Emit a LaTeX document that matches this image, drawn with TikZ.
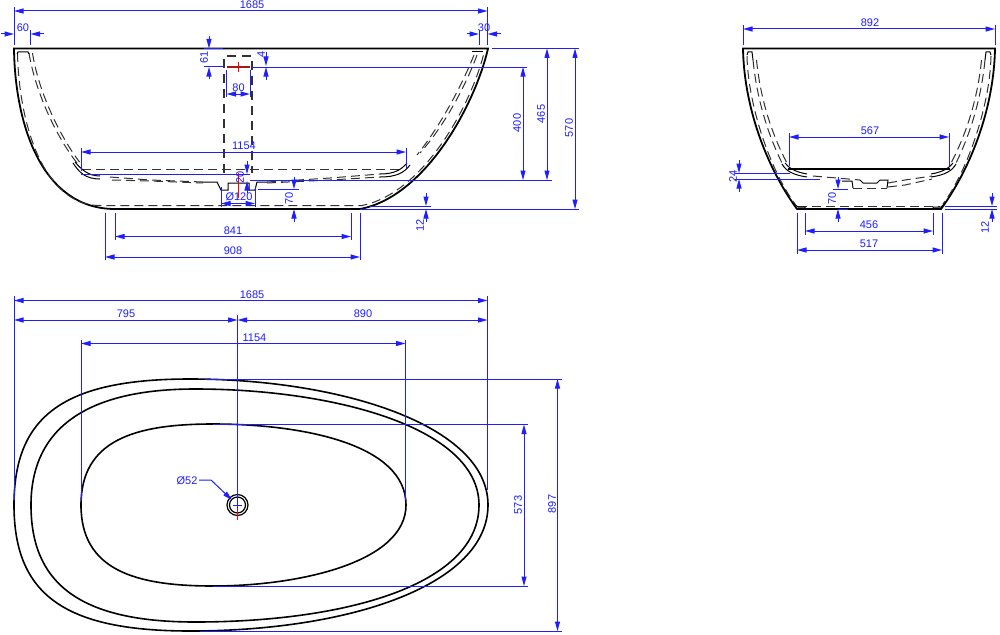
\documentclass[tikz,border=0pt]{standalone}
\usepackage{fontspec}
\setmainfont{Liberation Sans}
\usetikzlibrary{arrows.meta}
\definecolor{dimblue}{RGB}{30,30,255}
\definecolor{darkdash}{RGB}{50,50,50}
\definecolor{darkred}{RGB}{170,20,20}
\tikzset{
	dimline/.style={dimblue,line width=1pt},
	extline/.style={dimblue,line width=1pt},
	dimtext/.style={text=dimblue,inner sep=0pt,font=\fontsize{11}{13}\selectfont},
	rim/.style={black,line width=1.8pt},
	hidden/.style={darkdash,line width=1pt,dash pattern=on 9pt off 5pt},
	wall/.style={black,line width=1pt},
	bowl/.style={black,line width=1.6pt},
	axis/.style={red,line width=1pt}
}
\begin{document}
\begin{tikzpicture}[x=1pt,y=-1pt,>={Triangle[length=9.5pt,width=5pt]}]
	\useasboundingbox (0,0) rectangle (1000,634);
	\fill[white] (0,0) rectangle (1000,634);
	% front view
	\draw[rim] (14,48.5)--(488,48.5) .. controls (475,105) and (425,197) .. (360,209)--(115,209) .. controls (42,209) and (15,125) .. cycle;
	\draw[hidden] (17.5,53) .. controls (19,125) and (44,205.5) .. (100,205.5)--(362,205.5) .. controls (424,193) and (471,105) .. (484,53);
	\draw[hidden] (29,53) .. controls (35,90) and (55,135) .. (77,163);
	\draw[hidden] (32.5,53) .. controls (38,90) and (59,135) .. (79.5,162);
	\draw[wall] (17,54)--(18,52)--(28,52)--(29,54);
	\draw[hidden] (477,55) .. controls (466,85) and (445,125) .. (420,153);
	\draw[hidden] (474,55) .. controls (462,85) and (441,125) .. (417,155);
	\draw[wall] (472,52)--(483,52);
	\draw[hidden] (82,169)--(402,169);
	\draw[wall] (73,163) .. controls (79,172) and (85,179) .. (100,179);
	\draw[wall] (75,162) .. controls (81,169) and (88,176) .. (100,176);
	\draw[wall] (410,165) .. controls (404,173) and (396,177) .. (380,177);
	\draw[wall] (407,163) .. controls (401,170) and (394,174) .. (380,174);
	\draw[hidden] (110,177)--(150,180)--(203,182);
	\draw[hidden] (112,180)--(150,181)--(203,183);
	\draw[hidden] (267,182)--(330,178)--(380,174);
	\draw[hidden] (267,183)--(330,180)--(380,177);
	\draw[wall] (203,182)--(217,182)--(221,190)--(228,190)--(228,183)--(249,183)--(249,190)--(255,190)--(257,182)--(267,182);
	\draw[hidden,line width=1.2pt,dash pattern=on 9pt off 6pt] (224,173)--(224,56)--(252,56)--(252,173);
	\draw[extline] (81,174)--(250,174) (250,180)--(552,180);
	\draw[darkred,line width=1.2pt] (227,67)--(250,67);
	\draw[axis] (238,62)--(238,72) (238,173)--(238,198);
	% right view
	\draw[rim] (743,48.5)--(995,48.5) .. controls (994,105) and (973,165) .. (941,209)--(797,209) .. controls (765,165) and (744,105) .. cycle;
	\draw[hidden] (747,56) .. controls (748,105) and (770,170) .. (795,204);
	\draw[hidden] (753,60) .. controls (757,100) and (768,135) .. (783,165);
	\draw[hidden] (756.5,60) .. controls (760.5,100) and (772,135) .. (788,165);
	\draw[hidden] (991,56) .. controls (990,105) and (968,170) .. (943,204);
	\draw[hidden] (985,60) .. controls (981,100) and (970,135) .. (955,165);
	\draw[hidden] (981.5,60) .. controls (977.5,100) and (966,135) .. (950,165);
	\draw[wall] (747,55)--(748,52)--(752,52)--(753,60);
	\draw[wall] (991,55)--(990,52)--(986,52)--(985,60);
	\draw[rim,line width=1.3pt] (788,169)--(950,169);
	\draw[wall] (782,164) .. controls (786,171) and (793,175) .. (807,177);
	\draw[wall] (785,163) .. controls (789,168) and (795,172) .. (807,174);
	\draw[wall] (956,164) .. controls (952,171) and (945,175) .. (931,177);
	\draw[wall] (953,163) .. controls (949,168) and (943,172) .. (931,174);
	\draw[hidden] (813,176)--(860,180);
	\draw[wall] (860,180)--(863,183)--(877,183)--(880,180);
	\draw[hidden] (888,183)--(905,180)--(932,176);
	\draw[hidden] (888,187)--(905,185)--(932,179);
	\draw[hidden] (853,188)--(887,188);
	\draw[wall] (842,181)--(852,181)--(853,188) (880,180)--(888,180)--(887,188);
	\draw[hidden] (798,206)--(940,206);
	\draw[wall] (793,203)--(798,207)--(805,207)--(805,209) (933,207)--(933,209) (933,207)--(941,207)--(945,203);
	% plan view
	\draw[bowl] (14,505) .. controls (14,415) and (65,379) .. (190,379) .. controls (340,379) and (488,425) .. (488,505) .. controls (488,585) and (350,631) .. (190,631) .. controls (65,631) and (14,595) .. cycle;
	\draw[bowl] (31,505) .. controls (31,437) and (75,389) .. (195,389) .. controls (335,389) and (479,428) .. (479,505) .. controls (479,585) and (345,622) .. (195,622) .. controls (75,622) and (31,580) .. cycle;
	\draw[bowl] (81,505) .. controls (81,440) and (135,424) .. (213,424) .. controls (305,424) and (406,445) .. (406,505) .. controls (406,562) and (300,586) .. (213,586) .. controls (135,586) and (81,570) .. cycle;
	\draw[black,line width=1.2pt] (237.5,505) circle(10.5pt) circle(8pt);
	\draw[axis] (237.5,493)--(237.5,520);
	\draw[extline] (233,505)--(242,505);
	% horizontal dimensions
	\foreach \xa/\xb/\yy/\lab/\xt/\yt [count=\i] in {
		14/487.5/11/1685/252/5,
		81/406/152/1154/244/146,
		115/351/236.5/841/233/230.5,
		105/360/257/908/233/251,
		14/487.5/300.5/1685/252/294.5,
		14/237.5/320/795/126/314,
		237.5/487.5/320/890/363/314,
		81/405.5/343.5/1154/254.5/338,
		743/995/29/892/870/23,
		789/949/137/567/870/131,
		805/933/231/456/869/225,
		797/942/250/517/869/244}{
		\draw[dimline,<->] (\xa,\yy)--(\xb,\yy);
		\node[dimtext] (hdim\i) at (\xt,\yt) {\lab};
	}
	% vertical dimensions
	\foreach \xx/\ya/\yb/\lab/\xt/\yt [count=\i] in {
		523/67/180/400/517/123,
		547/48.5/180/465/541/114,
		575/48.5/209/570/569/128,
		557.5/379/631/897/552/504,
		524/424.5/586/573/518/505}{
		\draw[dimline,<->] (\xx,\ya)--(\xx,\yb);
		\node[dimtext,rotate=90] (vdim\i) at (\xt,\yt) {\lab};
	}
	% dimensions with outside arrows
	\draw[dimline,->] (1,34)--(14,34);
	\draw[dimline,->] (44,34)--(30.5,34);
	\draw[dimline,->] (467,34)--(479,34);
	\draw[dimline,->] (501,34)--(487.5,34);
	\draw[dimline,->] (209,36)--(209,48.5);
	\draw[dimline,->] (209,79)--(209,67);
	\draw[dimline,->] (266,52)--(266,66);
	\draw[dimline,->] (266,80)--(266,67);
	\draw[dimline,<->] (226.5,94)--(250,94);
	\draw[dimline,->] (247,161)--(247,174);
	\draw[dimline,->] (247,193)--(247,181);
	\draw[dimline,<->] (221,203.5)--(255,203.5);
	\draw[dimline,->] (294,177)--(294,189);
	\draw[dimline,->] (294,222)--(294,209);
	\draw[dimline,->] (426,193)--(426,206);
	\draw[dimline,->] (426,222)--(426,209);
	\draw[dimline,->] (739,160)--(739,173);
	\draw[dimline,->] (739,192)--(739,179);
	\draw[dimline,->] (838,177)--(838,189);
	\draw[dimline,->] (838,222)--(838,209);
	\draw[dimline,->] (992,193)--(992,206);
	\draw[dimline,->] (992,222)--(992,209);
	\draw[dimline,->] (199,480)--(211,480)--(232,500);
	% extension lines
	\foreach \xx/\ya/\yb in {14/7/45,487.5/7/45,30.5/30/45,479/30/45,226.5/70/97,250/70/97,81/148/171,406/148/168,
		221/187/207,255/187/207,115/213/240,351/213/240,105/213/260,360/213/260,
		743/25/45,995/25/45,789/133/166,949/133/166,805/213/235,933/213/235,797/213/254,942/213/254,
		14/296/500,487.5/296/490,237.5/315/510,81/340/500,405.5/340/500}{
		\draw[extline] (\xx,\ya)--(\xx,\yb);
	}
	\foreach \xa/\xb/\yy in {204/223/48.5,204/224/66.5,252/527/67,492/579/48.5,258/299/189,370/431/206,360/579/209,
		735/790/173,735/820/179,833/848/189,945/997/206,945/997/209,838/848/209,
		205/562/379,200/562/631,213/528/424.5,213/528/586}{
		\draw[extline] (\xa,\yy)--(\xb,\yy);
	}
	% small labels
	\foreach \lab/\xt/\yt/\rot [count=\i] in {60/23/28/0,30/484/28/0,61/204/57/90,4/261/54/90,80/238.5/88/0,20/240/177/90,
		Ø120/239/197/0,70/289/198/90,12/420/225/90,24/733/176/90,70/832/198/90,12/985/227/90,Ø52/187/481/0}{
		\node[dimtext,rotate=\rot] (tag\i) at (\xt,\yt) {\lab};
	}
\end{tikzpicture}
\end{document}
